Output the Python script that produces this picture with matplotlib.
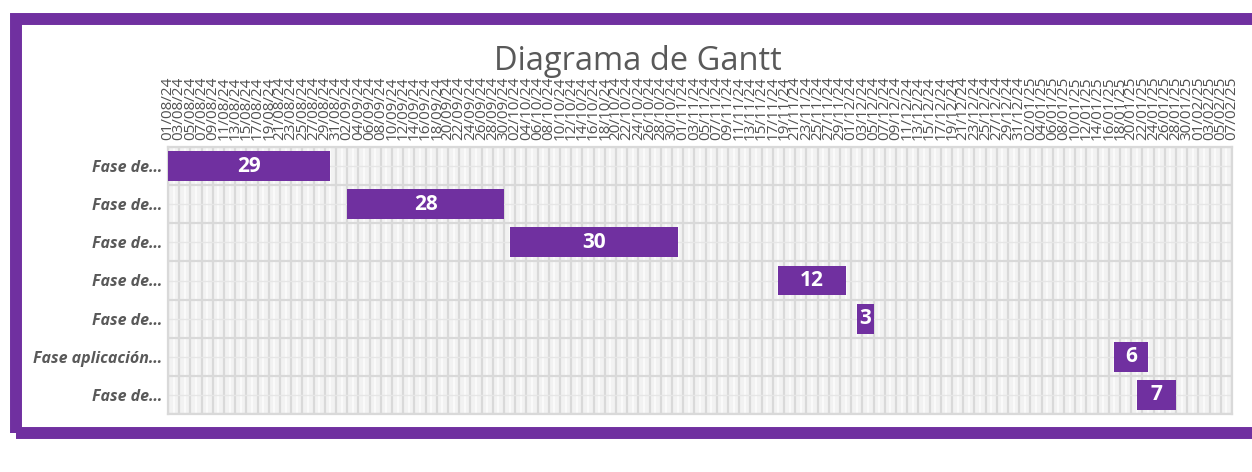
"""
Gantt chart (Excel style) - purple bars with day counts
"""
import numpy as np
import pandas as pd
import matplotlib
matplotlib.use('Agg')
import matplotlib.pyplot as plt
import matplotlib.dates as mdates
from matplotlib.patches import Rectangle

# Data
tasks = ['Fase de…', 'Fase de…', 'Fase de…', 'Fase de…', 'Fase de…',
         'Fase aplicación…', 'Fase de…']
starts = ['2024-08-01', '2024-09-02', '2024-10-01', '2024-11-18',
          '2024-12-02', '2025-01-17', '2025-01-21']
durations = [29, 28, 30, 12, 3, 6, 7]
axis_start = '2024-08-01'
axis_end = '2025-02-07'

purple = '#7030A0'
text_gray = '#595959'
plt.rcParams['font.family'] = ['Open Sans', 'DejaVu Sans']

fig = plt.figure(figsize=(12.52, 4.72), dpi=100)
fig.patch.set_facecolor('white')

# purple frame
W, H = 1252, 472
frame = Rectangle((16 / W, (H - 433) / H), (1270 - 16) / W, (433 - 19) / H,
                  transform=fig.transFigure, fill=False, edgecolor=purple,
                  linewidth=8.6, joinstyle='miter', zorder=0)
fig.patches.append(frame)

ax = fig.add_axes([168 / W, (H - 414) / H, (1232 - 168) / W, (414 - 147) / H])
ax.set_facecolor('#f2f2f2')

start_num = mdates.date2num(pd.to_datetime(starts))
x0 = mdates.date2num(pd.Timestamp(axis_start))
x1 = mdates.date2num(pd.Timestamp(axis_end))
y = np.arange(len(tasks))

ax.barh(y, durations, left=start_num, height=0.78, color=purple, zorder=3)
for yi, s, d in zip(y, start_num, durations):
    ax.text(s + d / 2, yi, str(d), ha='center', va='center', color='white',
            fontsize=15, fontweight='bold', zorder=4)

ax.set_xlim(x0, x1)
ax.set_ylim(len(tasks) - 0.5, -0.5)

# ticks every 2 days, minor every day
ticks = np.arange(x0, x1 + 0.5, 2)
ax.set_xticks(ticks)
ax.set_xticks(np.arange(x0 + 1, x1, 2), minor=True)
ax.xaxis.set_major_formatter(mdates.DateFormatter('%d/%m/%y'))
ax.xaxis.tick_top()
plt.setp(ax.get_xticklabels(), rotation=90, ha='center', va='bottom',
         fontsize=11, color='#505050')
ax.tick_params(axis='x', which='both', length=0, pad=5)

ax.set_yticks(y)
ax.set_yticklabels(tasks, fontsize=11.5, fontweight='bold', style='italic',
                   color=text_gray)
ax.set_yticks(np.arange(-0.5, len(tasks), 1), minor=True)
ax.tick_params(axis='y', which='both', length=0, pad=4)

# grid
ax.grid(which='major', axis='x', color='#d9d9d9', linewidth=1.6, zorder=1)
ax.grid(which='minor', axis='x', color='#fbfbfb', linewidth=1.4, zorder=1)
ax.grid(which='minor', axis='y', color='#d9d9d9', linewidth=1.6, zorder=1)
ax.grid(which='major', axis='y', color='#e6e6e6', linewidth=1.0, zorder=1)
ax.set_axisbelow(True)
for spine in ax.spines.values():
    spine.set_color('#d9d9d9')
    spine.set_linewidth(1.6)

fig.text(638 / W, (H - 61) / H, 'Diagrama de Gantt', ha='center', va='center',
         fontsize=23.5, color=text_gray)

plt.savefig('out.png', dpi=100, facecolor='white')
